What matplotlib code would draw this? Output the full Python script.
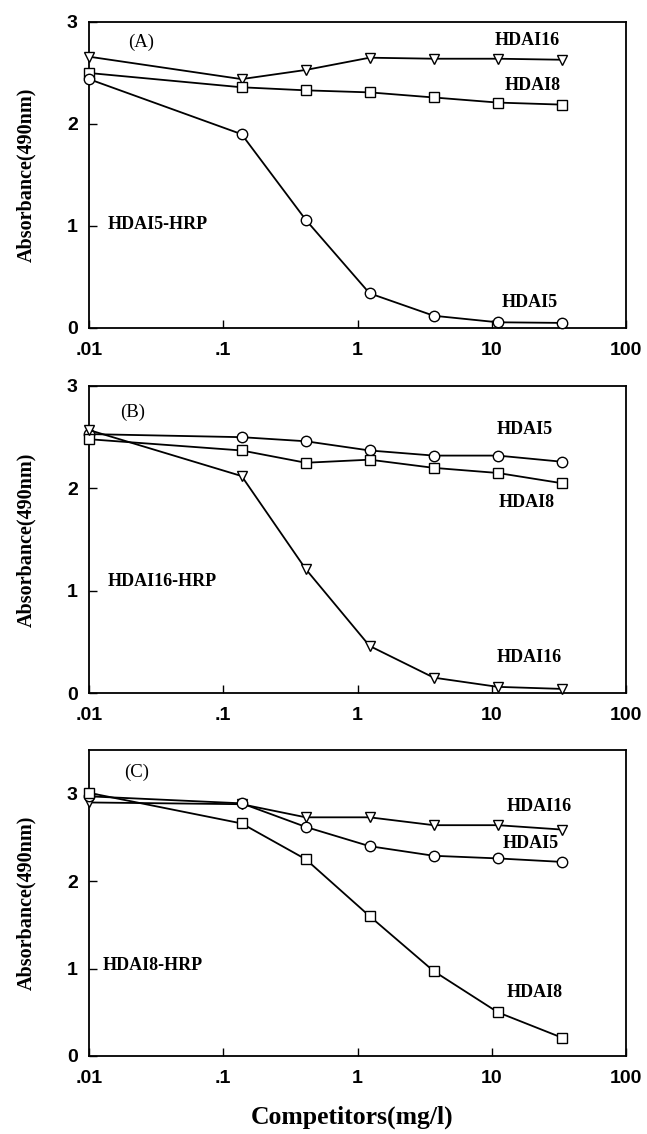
import matplotlib
matplotlib.use('Agg')
import matplotlib.pyplot as plt
from matplotlib.ticker import FixedLocator, FixedFormatter, NullLocator

# ---------------- data ----------------
conc = [0.01, 0.137, 0.412, 1.23, 3.70, 11.1, 33.3]
xtick_vals = [0.01, 0.1, 1, 10, 100]
xtick_labels = ['.01', '.1', '1', '10', '100']
ytick_vals = [0, 1, 2, 3]
ytick_labels = ['0', '1', '2', '3']

# Panel A : HDAI5-HRP
a_hdai16 = [2.66, 2.44, 2.53, 2.65, 2.64, 2.64, 2.63]
a_hdai8 = [2.50, 2.36, 2.33, 2.31, 2.26, 2.21, 2.19]
a_hdai5 = [2.44, 1.90, 1.06, 0.34, 0.12, 0.056, 0.05]
# Panel B : HDAI16-HRP
b_hdai5 = [2.53, 2.50, 2.46, 2.37, 2.32, 2.32, 2.26]
b_hdai8 = [2.48, 2.37, 2.25, 2.28, 2.20, 2.15, 2.05]
b_hdai16 = [2.57, 2.12, 1.21, 0.46, 0.15, 0.06, 0.04]
# Panel C : HDAI8-HRP
c_hdai16 = [2.90, 2.88, 2.73, 2.73, 2.64, 2.64, 2.59]
c_hdai5 = [2.97, 2.89, 2.62, 2.40, 2.29, 2.26, 2.22]
c_hdai8 = [3.01, 2.66, 2.25, 1.60, 0.97, 0.50, 0.21]

panel_tags = ['(A)', '(B)', '(C)']
tracer_names = ['HDAI5-HRP', 'HDAI16-HRP', 'HDAI8-HRP']
ylabel_text = 'Absorbance(490nm)'
xlabel_text = 'Competitors(mg/l)'

# ---------------- figure ----------------
W, H = 647, 1134
fig = plt.figure(figsize=(W / 100, H / 100), dpi=100)

left = 89 / W
width = (626 - 89) / W
boxes = [(22, 328), (386, 693), (750, 1056)]

serif = ['Liberation Serif', 'DejaVu Serif']
sans = ['Liberation Sans', 'DejaVu Sans']

mk = dict(color='black', lw=1.3, markerfacecolor='white', markeredgecolor='black',
          markeredgewidth=1.0)

axes = []
for top, bot in boxes:
    ax = fig.add_axes([left, 1 - bot / H, width, (bot - top) / H])
    axes.append(ax)

series = [
    [(a_hdai16, 'v', 7.5), (a_hdai8, 's', 7), (a_hdai5, 'o', 7.5)],
    [(b_hdai5, 'o', 7.5), (b_hdai8, 's', 7), (b_hdai16, 'v', 7.5)],
    [(c_hdai16, 'v', 7.5), (c_hdai5, 'o', 7.5), (c_hdai8, 's', 7)],
]
ylims = [(0, 3), (0, 3), (0, 3.5)]

for ax, ser, yl in zip(axes, series, ylims):
    for vals, m, ms in ser:
        ax.plot(conc, vals, marker=m, markersize=ms, **mk, clip_on=False, zorder=3)
    ax.set_xscale('log')
    ax.set_xlim(0.01, 100)
    ax.set_ylim(*yl)
    ax.xaxis.set_major_locator(FixedLocator(xtick_vals))
    ax.xaxis.set_major_formatter(FixedFormatter(xtick_labels))
    ax.xaxis.set_minor_locator(NullLocator())
    ax.yaxis.set_major_locator(FixedLocator(ytick_vals))
    ax.yaxis.set_major_formatter(FixedFormatter(ytick_labels))
    ax.yaxis.set_minor_locator(NullLocator())
    ax.tick_params(axis='both', direction='in', length=6, width=1.0)
    ax.tick_params(axis='x', pad=10)
    ax.tick_params(axis='y', pad=8)
    for lab in ax.get_xticklabels() + ax.get_yticklabels():
        lab.set_family(sans)
        lab.set_fontweight('bold')
        lab.set_fontsize(14)
    for sp in ax.spines.values():
        sp.set_linewidth(1.3)
    ax.set_ylabel(ylabel_text, family=serif, fontweight='bold', fontsize=14.5)
    ax.yaxis.set_label_coords(-0.099, 0.5)


def label(ax, x, y, s, ha='center', weight='bold', size=13):
    ax.text(x, y, s, transform=ax.transAxes, ha=ha, va='center',
            family=serif, fontweight=weight, fontsize=size)

# Panel A
label(axes[0], 0.097, 0.935, panel_tags[0], weight='normal', size=13.5)
label(axes[0], 0.816, 0.940, 'HDAI16')
label(axes[0], 0.827, 0.794, 'HDAI8')
label(axes[0], 0.034, 0.337, tracer_names[0], ha='left')
label(axes[0], 0.821, 0.082, 'HDAI5')
# Panel B
label(axes[1], 0.082, 0.915, panel_tags[1], weight='normal', size=13.5)
label(axes[1], 0.812, 0.857, 'HDAI5')
label(axes[1], 0.816, 0.622, 'HDAI8')
label(axes[1], 0.034, 0.362, tracer_names[1], ha='left')
label(axes[1], 0.819, 0.117, 'HDAI16')
# Panel C
label(axes[2], 0.089, 0.928, panel_tags[2], weight='normal', size=13.5)
label(axes[2], 0.838, 0.814, 'HDAI16')
label(axes[2], 0.823, 0.696, 'HDAI5')
label(axes[2], 0.026, 0.297, tracer_names[2], ha='left')
label(axes[2], 0.830, 0.209, 'HDAI8')

axes[2].set_xlabel(xlabel_text, family=serif, fontweight='bold', fontsize=18.5)
axes[2].xaxis.set_label_coords(0.49, -0.163)

fig.savefig('out.png', dpi=100, facecolor='white')
